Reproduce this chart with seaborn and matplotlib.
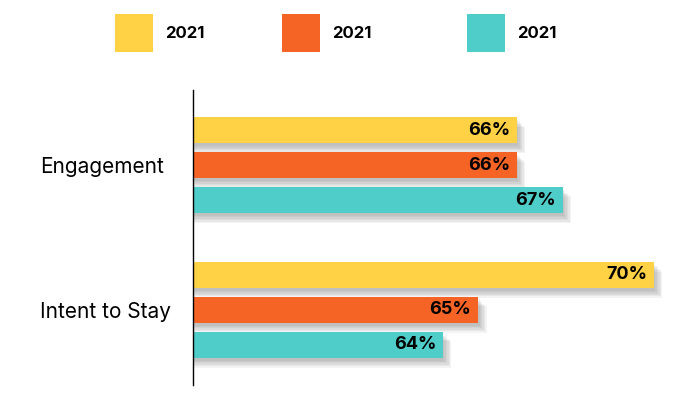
import pandas as pd
import matplotlib
matplotlib.use('Agg')
import matplotlib.pyplot as plt
import matplotlib.patheffects as pe
import seaborn as sns

# data (bar lengths), labels shown rounded
categories = ['Engagement', 'Intent to Stay']
series = ['s1', 's2', 's3']
legend_labels = ['2021', '2021', '2021']
values_s1 = [66.1, 70.0]
values_s2 = [66.1, 65.0]
values_s3 = [67.4, 64.0]
colors = ['#FFD145', '#F66425', '#4FCDC9']

df = pd.DataFrame({
    'category': categories * 3,
    'series': [s for s in series for _ in categories],
    'value': values_s1 + values_s2 + values_s3,
})

sns.set_style('white')
plt.rcParams['font.family'] = ['Inter', 'DejaVu Sans']

fig = plt.figure(figsize=(7, 4), dpi=100)
ax = fig.add_axes([193 / 700, 15 / 400, 487 / 700, 295 / 400])

sns.barplot(data=df, y='category', x='value', hue='series', orient='h',
            palette=colors, saturation=1, width=0.724, gap=0.25,
            linewidth=0, edgecolor='none', ax=ax, legend=True)

# soft drop shadow + labels inside bar ends
shadow = [pe.SimplePatchShadow(offset=(o, -o - 1), shadow_rgbFace='#555555', alpha=0.07)
          for o in (1, 2, 3, 4, 5, 6)]
for cont in ax.containers:
    for bar in cont:
        bar.set_path_effects(shadow + [pe.Normal()])
    txts = ax.bar_label(cont, labels=[f'{v:.0f}%' for v in cont.datavalues],
                        label_type='edge', padding=-5, fontsize=13,
                        fontweight='bold', color='black')
    for t in txts:
        t.set_horizontalalignment('right')

ax.set_xlim(56.89, 70.74)
ax.set_ylim(1.52, -0.52)
ax.set_xlabel('')
ax.set_ylabel('')
ax.set_xticks([])
for s in ['top', 'right', 'bottom']:
    ax.spines[s].set_visible(False)
ax.spines['left'].set_color('black')
ax.spines['left'].set_linewidth(1)
ax.tick_params(axis='y', length=0, pad=110, labelsize=15, labelcolor='black')
for lbl in ax.get_yticklabels():
    lbl.set_horizontalalignment('left')

# one legend entry per box, placed like the reference
handles, _ = ax.get_legend_handles_labels()
ax.get_legend().remove()
legend_x = [115, 282, 467]
for h, lab, x in zip(handles, legend_labels, legend_x):
    fig.legend([h], [lab], loc='center left', bbox_to_anchor=(x / 700, 1 - 33 / 400),
               frameon=False, borderpad=0, borderaxespad=0,
               handlelength=2.3, handleheight=3.1, handletextpad=0.7,
               prop={'weight': 'bold', 'size': 12}, labelcolor='black')

fig.savefig('out.png', dpi=100)
